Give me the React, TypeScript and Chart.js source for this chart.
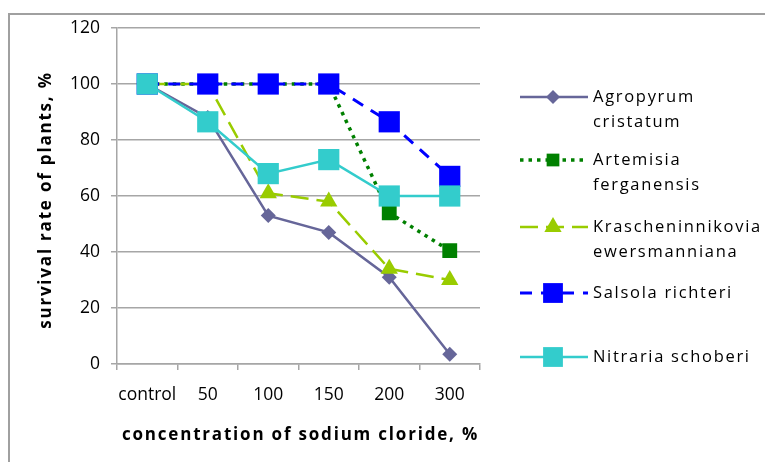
import React, { useEffect, useRef } from 'react';
import { Chart, registerables } from 'chart.js';

Chart.register(...registerables);

const categories = ['control', '50', '100', '150', '200', '300'];
const agropyrum = [100, 88, 53, 47, 31, 3.5];
const artemisia = [100, 100, 100, 100, 54, 40.5];
const krascheninnikovia = [100, 100, 61, 58, 34, 30];
const salsola = [100, 100, 100, 100, 86.5, 67];
const nitraria = [100, 86.5, 68, 73, 60, 60];

const seriesNames = [
  'Agropyrum cristatum',
  'Artemisia ferganensis',
  'Krascheninnikovia ewersmanniana',
  'Salsola richteri',
  'Nitraria schoberi',
];
const legendLabelLines = [
  ['Agropyrum', 'cristatum'],
  ['Artemisia', 'ferganensis'],
  ['Krascheninnikovia', 'ewersmanniana'],
  ['Salsola richteri'],
  ['Nitraria schoberi'],
];
const yTickMin = 0;
const yTickMax = 120;
const yTickStep = 20;
const xTitle = 'concentration of sodium cloride, %';
const yTitle = 'survival rate of plants, %';

const FONT = '"Open Sans", "Liberation Sans", sans-serif';
const GRID = '#a6a6a6';

type Style = {
  color: string;
  dash: number[];
  width: number;
  point: string;
  radius: number;
  legendRadius: number;
};

const styles: Style[] = [
  { color: '#666699', dash: [], width: 2.5, point: 'rectRot', radius: 7.5, legendRadius: 7 },
  { color: '#008000', dash: [3.5, 5], width: 3.5, point: 'rect', radius: 10.5, legendRadius: 9 },
  { color: '#99cc00', dash: [18, 8], width: 2.5, point: 'triangle', radius: 10, legendRadius: 10 },
  { color: '#0000ff', dash: [12, 9], width: 3, point: 'rect', radius: 15, legendRadius: 14 },
  { color: '#33cccc', dash: [], width: 2.5, point: 'rect', radius: 15, legendRadius: 14 },
];

const seriesValues = [agropyrum, artemisia, krascheninnikovia, salsola, nitraria];

function drawMarker(ctx: CanvasRenderingContext2D, style: string, x: number, y: number, r: number, color: string) {
  ctx.save();
  ctx.setLineDash([]);
  ctx.fillStyle = color;
  ctx.beginPath();
  if (style === 'rectRot') {
    ctx.moveTo(x, y - r);
    ctx.lineTo(x + r, y);
    ctx.lineTo(x, y + r);
    ctx.lineTo(x - r, y);
  } else if (style === 'triangle') {
    ctx.moveTo(x, y - r);
    ctx.lineTo(x + r * Math.sin((2 * Math.PI) / 3), y + r / 2);
    ctx.lineTo(x - r * Math.sin((2 * Math.PI) / 3), y + r / 2);
  } else {
    const s = r * Math.SQRT1_2;
    ctx.rect(x - s, y - s, 2 * s, 2 * s);
  }
  ctx.closePath();
  ctx.fill();
  ctx.restore();
}

const framePlugin = {
  id: 'frame',
  beforeDraw(chart: any) {
    const ctx = chart.ctx as CanvasRenderingContext2D;
    ctx.save();
    ctx.strokeStyle = '#a0a0a0';
    ctx.lineWidth = 2;
    ctx.beginPath();
    ctx.moveTo(9, chart.height);
    ctx.lineTo(9, 14);
    ctx.lineTo(chart.width, 14);
    ctx.stroke();
    ctx.restore();
  },
};

const decorPlugin = {
  id: 'decor',
  afterDraw(chart: any) {
    const ctx = chart.ctx as CanvasRenderingContext2D;
    const area = chart.chartArea;
    ctx.save();
    // axis titles
    ctx.fillStyle = '#000';
    ctx.font = `bold 17px ${FONT}`;
    (ctx as any).letterSpacing = '1.8px';
    ctx.textAlign = 'center';
    ctx.textBaseline = 'middle';
    ctx.fillText(xTitle, (area.left + area.right) / 2 + 2, 435);
    ctx.save();
    ctx.translate(46, (area.top + area.bottom) / 2 + 4);
    ctx.rotate(-Math.PI / 2);
    ctx.fillText(yTitle, 0, 0);
    ctx.restore();

    // legend
    const rowY = [97, 160, 227, 293, 357];
    const lineX0 = 520;
    const lineX1 = 588;
    const markX = 553;
    const textX = 593;
    ctx.font = `16.5px ${FONT}`;
    (ctx as any).letterSpacing = '1.7px';
    ctx.textAlign = 'left';
    chart.data.datasets.forEach((ds: any, i: number) => {
      const st = styles[i];
      const y = rowY[i];
      ctx.save();
      ctx.strokeStyle = st.color;
      ctx.lineWidth = st.width;
      ctx.setLineDash(st.dash);
      ctx.beginPath();
      ctx.moveTo(lineX0, y);
      ctx.lineTo(lineX1, y);
      ctx.stroke();
      ctx.restore();
      drawMarker(ctx, st.point, markX, y, st.legendRadius, st.color);
      ctx.fillStyle = '#000';
      legendLabelLines[i].forEach((t, k) => {
        ctx.fillText(t, textX, y + k * 25);
      });
    });
    ctx.restore();
  },
};

export default function App() {
  const ref = useRef<HTMLCanvasElement | null>(null);

  useEffect(() => {
    if (!ref.current) return;
    const chart = new Chart(ref.current, {
      type: 'line',
      data: {
        labels: categories,
        datasets: seriesValues.map((vals, i) => ({
          label: seriesNames[i],
          data: vals,
          borderColor: styles[i].color,
          backgroundColor: styles[i].color,
          borderWidth: styles[i].width,
          borderDash: styles[i].dash,
          pointStyle: styles[i].point as any,
          pointRadius: styles[i].radius,
          pointBorderWidth: 0,
          pointBackgroundColor: styles[i].color,
          pointBorderColor: styles[i].color,
          tension: 0,
          fill: false,
          order: seriesValues.length - i,
        })),
      },
      options: {
        animation: false,
        responsive: false,
        devicePixelRatio: window.devicePixelRatio || 1,
        layout: { autoPadding: false, padding: { left: 0, top: 28, right: 285, bottom: 0 } },
        plugins: {
          legend: { display: false },
          tooltip: { enabled: false },
          title: { display: false },
        },
        scales: {
          x: {
            type: 'category',
            offset: true,
            grid: {
              display: true,
              offset: true,
              drawOnChartArea: false,
              drawTicks: true,
              tickLength: 6,
              color: GRID,
              lineWidth: 1.5,
            },
            border: { display: true, color: GRID, width: 1.5 },
            ticks: {
              color: '#000',
              font: { family: FONT, size: 17.5 },
              padding: 15,
              maxRotation: 0,
              autoSkip: false,
            },
            afterFit(scale: any) {
              scale.height = 98;
            },
          },
          y: {
            min: yTickMin,
            max: yTickMax,
            ticks: {
              stepSize: yTickStep,
              color: '#000',
              font: { family: FONT, size: 17.5 },
              padding: 11,
            },
            grid: {
              color: GRID,
              lineWidth: 1.5,
              tickLength: 6,
              drawTicks: true,
            },
            border: { display: true, color: GRID, width: 1.5 },
            afterFit(scale: any) {
              scale.width = 117;
            },
          },
        },
      },
      plugins: [framePlugin, decorPlugin],
    });
    return () => chart.destroy();
  }, []);

  return (
    <div style={{ position: 'absolute', left: 0, top: 0, width: 765, height: 462, background: '#fff' }}>
      <canvas ref={ref} width={765} height={462} style={{ width: 765, height: 462, display: 'block' }} />
    </div>
  );
}
